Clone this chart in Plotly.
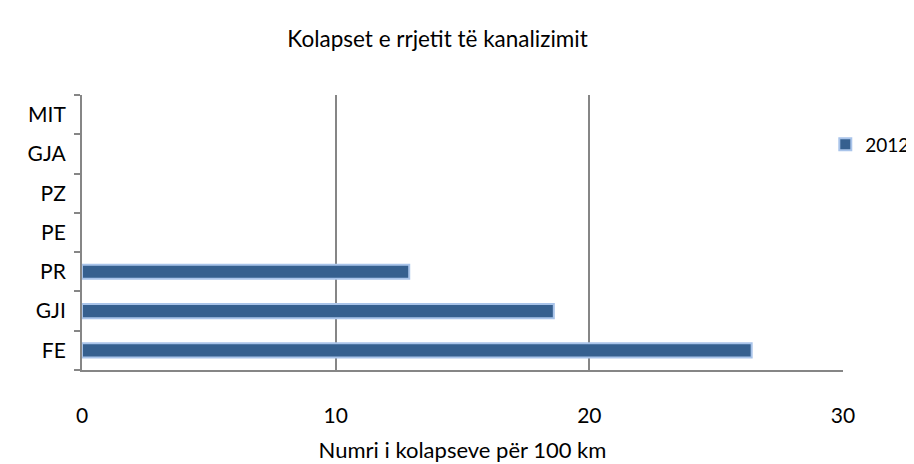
import plotly.graph_objects as go

categories = ["FE", "GJI", "PR", "PE", "PZ", "GJA", "MIT"]
values_2012 = [26.4, 18.6, 12.9, None, None, None, None]
series_name = "2012"
x_ticks = [0, 10, 20, 30]

FONT = "Lato, 'Open Sans', sans-serif"

fig = go.Figure()
fig.add_trace(go.Bar(
    y=categories, x=values_2012, orientation="h", name=series_name,
    width=0.36,
    marker=dict(color="#36608F", line=dict(color="#A9C4EA", width=2)),
    showlegend=True,
))

fig.update_layout(
    width=914, height=464,
    margin=dict(l=74, r=79, t=87, b=102, autoexpand=False),
    paper_bgcolor="white", plot_bgcolor="white",
    font=dict(family=FONT, size=21, color="#000000"),
    title=dict(text="Kolapset e rrjetit të kanalizimit", x=0.47, xanchor="center",
               y=1 - 31 / 464, yanchor="middle", font=dict(size=22.5, family=FONT)),
    showlegend=True,
    legend=dict(x=1.095, y=0.82, xanchor="right", yanchor="middle",
                font=dict(size=19, family=FONT), bgcolor="rgba(0,0,0,0)",
                itemwidth=30),
    bargap=0.6,
)

fig.update_xaxes(
    range=[0, 30], tickvals=x_ticks, ticktext=[str(v) for v in x_ticks],
    showgrid=True, gridcolor="#868686", gridwidth=1.5,
    showline=True, linecolor="#868686", linewidth=2,
    ticks="", ticklabelstandoff=26, zeroline=False,
    title=dict(text="Numri i kolapseve për 100 km", standoff=16, font=dict(size=22)),
    fixedrange=True, automargin=False,
)
fig.update_yaxes(
    categoryorder="array", categoryarray=categories,
    showline=True, linecolor="#868686", linewidth=2,
    ticks="outside", ticklen=6, tickcolor="#868686", tickwidth=2,
    tickson="boundaries", showgrid=False, ticklabelstandoff=10,
    fixedrange=True, automargin=False,
)

fig.write_html("out.html")
